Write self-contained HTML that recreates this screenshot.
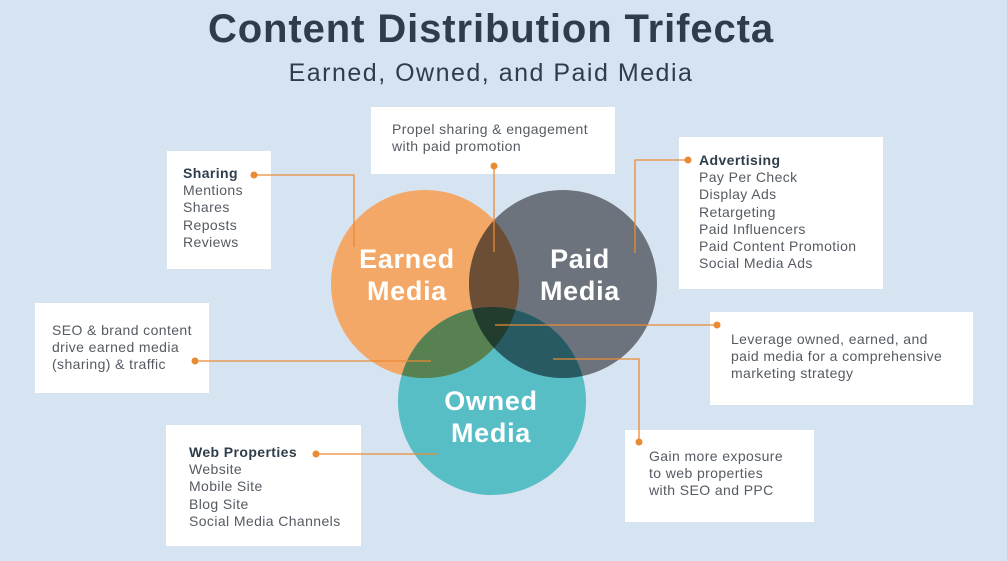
<!DOCTYPE html>
<html><head><style>
body{margin:0;width:1007px;height:561px;background:#d6e4f2;position:relative;overflow:hidden;font-family:"Liberation Sans",sans-serif}
.t{position:absolute;left:0;width:982px;text-align:center;color:#2e3d4b}
.b{position:absolute;background:#fff;font-size:14px;line-height:17.2px;color:#555b63;box-sizing:border-box;letter-spacing:0.4px;white-space:nowrap}
.b b{color:#2e3d4b}
svg{position:absolute;left:0;top:0}
</style></head><body>
<div class="t" style="top:7px;font-size:40px;font-weight:bold;letter-spacing:0.9px">Content Distribution Trifecta</div>
<div class="t" style="top:59px;font-size:25px;letter-spacing:1.5px">Earned, Owned, and Paid Media</div>
<div class="b" style="left:167px;top:151px;width:104px;height:118px;padding:14px 0 0 16px"><b>Sharing</b><br>Mentions<br>Shares<br>Reposts<br>Reviews</div>
<div class="b" style="left:371px;top:107px;width:244px;height:67px;padding:14px 0 0 21px">Propel sharing &amp; engagement<br>with paid promotion</div>
<div class="b" style="left:679px;top:137px;width:204px;height:152px;padding:15px 0 0 20px"><b>Advertising</b><br>Pay Per Check<br>Display Ads<br>Retargeting<br>Paid Influencers<br>Paid Content Promotion<br>Social Media Ads</div>
<div class="b" style="left:35px;top:303px;width:174px;height:90px;padding:19px 0 0 17px">SEO &amp; brand content<br>drive earned media<br>(sharing) &amp; traffic</div>
<div class="b" style="left:710px;top:312px;width:263px;height:93px;padding:19px 0 0 21px">Leverage owned, earned, and<br>paid media for a comprehensive<br>marketing strategy</div>
<div class="b" style="left:166px;top:425px;width:195px;height:121px;padding:19px 0 0 23px"><b>Web Properties</b><br>Website<br>Mobile Site<br>Blog Site<br>Social Media Channels</div>
<div class="b" style="left:625px;top:430px;width:189px;height:92px;padding:18px 0 0 24px">Gain more exposure<br>to web properties<br>with SEO and PPC</div>
<svg width="1007" height="561">
<defs>
<clipPath id="ce"><circle cx="425" cy="284" r="94"/></clipPath>
<clipPath id="cp"><circle cx="563" cy="284" r="94"/></clipPath>
</defs>
<circle cx="425" cy="284" r="94" fill="#f4a867"/>
<circle cx="563" cy="284" r="94" fill="#6c737c"/>
<circle cx="492" cy="401" r="94" fill="#58bec6"/>
<g clip-path="url(#ce)"><circle cx="563" cy="284" r="94" fill="#6b4e34"/><circle cx="492" cy="401" r="94" fill="#588152"/></g>
<g clip-path="url(#cp)"><circle cx="492" cy="401" r="94" fill="#275a63"/></g>
<g clip-path="url(#ce)"><g clip-path="url(#cp)"><circle cx="492" cy="401" r="94" fill="#223c2d"/></g></g>
<g fill="#fff" font-weight="bold" font-size="27" letter-spacing="0.7" text-anchor="middle" font-family="Liberation Sans,sans-serif">
<text x="407" y="268">Earned</text><text x="407" y="300">Media</text>
<text x="580" y="268">Paid</text><text x="580" y="300">Media</text>
<text x="491" y="410">Owned</text><text x="491" y="442">Media</text>
</g>
<g stroke="#e98a34" stroke-width="1.3" fill="none">
<polyline points="254,175 354,175 354,247"/>
<polyline points="494,168 494,252"/>
<polyline points="688,160 635,160 635,253"/>
<polyline points="195,361 431,361"/>
<polyline points="717,325 495,325"/>
<polyline points="316,454 437,454"/>
<polyline points="639,442 639,359 553,359"/>
</g>
<g fill="#e98a34">
<circle cx="254" cy="175" r="3.5"/><circle cx="494" cy="166" r="3.5"/><circle cx="688" cy="160" r="3.5"/>
<circle cx="195" cy="361" r="3.5"/><circle cx="717" cy="325" r="3.5"/><circle cx="316" cy="454" r="3.5"/><circle cx="639" cy="442" r="3.5"/>
</g>
</svg>
</body></html>
